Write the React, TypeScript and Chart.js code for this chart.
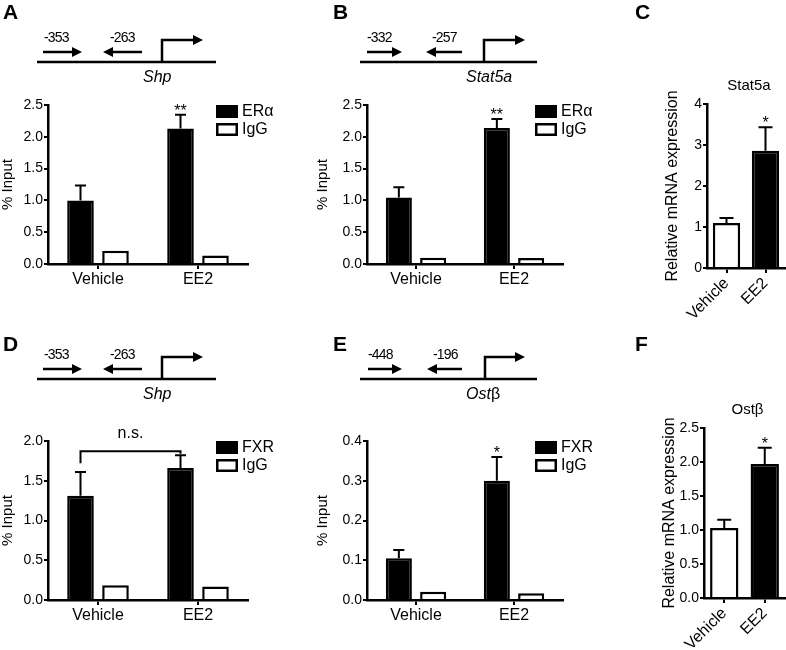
import React, { useEffect, useRef } from "react";
import { Chart, registerables } from "chart.js";

Chart.register(...registerables);

const FONT = "'Liberation Sans', Arial, Helvetica, sans-serif";

// ---------- data ----------
const groups = ["Vehicle", "EE2"];

// A: ERα ChIP at Shp promoter
const aERa = [1.0, 2.13];
const aERaErr = [0.235, 0.215];
const aIgG = [0.21, 0.135];

// B: ERα ChIP at Stat5a promoter
const bERa = [1.045, 2.14];
const bERaErr = [0.16, 0.14];
const bIgG = [0.1, 0.095];

// C: Stat5a mRNA
const cExpr = [1.1, 2.86];
const cErr = [0.12, 0.57];

// D: FXR ChIP at Shp promoter
const dFXR = [1.31, 1.66];
const dFXRErr = [0.3, 0.16];
const dIgG = [0.185, 0.17];

// E: FXR ChIP at Ostβ promoter
const eFXR = [0.105, 0.3];
const eFXRErr = [0.021, 0.06];
const eIgG = [0.021, 0.017];

// F: Ostβ mRNA
const fExpr = [1.03, 1.97];
const fErr = [0.12, 0.24];

// ---------- chart panel ----------
type Rect = { left: number; top: number; width: number; height: number };
type Area = { left: number; top: number; right: number; bottom: number };
type DS = { label: string; data: number[]; err?: number[]; bg: string | string[] };
type Star = { ds: number; idx: number; text: string };
type Bracket = { ds: number; y: number; leftEnd: number; rightEnd: number; text: string };

interface PanelProps {
  canvas: Rect;
  area: Area;
  yTitleLeft: number;
  yTitle: string;
  yTitleSize: number;
  yMax: number;
  yStep: number;
  yDecimals: number;
  labels: string[];
  datasets: DS[];
  catPct: number;
  barPct: number;
  rotate?: boolean;
  legend?: boolean;
  title?: string;
  stars?: Star[];
  bracket?: Bracket;
  capHalf: number;
}

function BarPanel(p: PanelProps) {
  const ref = useRef<HTMLCanvasElement>(null);
  useEffect(() => {
    const padL = p.yTitleLeft - p.canvas.left;
    const yW = p.area.left - p.yTitleLeft;
    const padT = p.area.top - p.canvas.top;
    const padR = p.canvas.left + p.canvas.width - p.area.right;
    const padB = 2;
    const xH = p.canvas.top + p.canvas.height - p.area.bottom - padB;

    const prism = {
      id: "prism",
      afterDatasetsDraw(chart: any) {
        const ctx = chart.ctx as CanvasRenderingContext2D;
        const ys = chart.scales.y;
        const ca = chart.chartArea;
        ctx.save();
        ctx.strokeStyle = "#000";
        ctx.fillStyle = "#000";
        ctx.lineWidth = 2;
        // error bars
        p.datasets.forEach((ds, i) => {
          if (!ds.err) return;
          const meta = chart.getDatasetMeta(i);
          ds.err.forEach((e, j) => {
            if (!e) return;
            const bar = meta.data[j];
            const yt = ys.getPixelForValue(ds.data[j] + e);
            ctx.beginPath();
            ctx.moveTo(bar.x, bar.y);
            ctx.lineTo(bar.x, yt);
            ctx.moveTo(bar.x - p.capHalf, yt);
            ctx.lineTo(bar.x + p.capHalf, yt);
            ctx.stroke();
          });
        });
        // significance stars
        ctx.font = `16px ${FONT}`;
        ctx.textAlign = "center";
        ctx.textBaseline = "alphabetic";
        (p.stars || []).forEach((s) => {
          const ds = p.datasets[s.ds];
          const bar = chart.getDatasetMeta(s.ds).data[s.idx];
          const top = ds.data[s.idx] + (ds.err ? ds.err[s.idx] : 0);
          const y = ys.getPixelForValue(top);
          ctx.fillText(s.text, bar.x, y + 1);
        });
        // bracket
        if (p.bracket) {
          const b = p.bracket;
          const meta = chart.getDatasetMeta(b.ds);
          const x1 = meta.data[0].x;
          const x2 = meta.data[1].x;
          const yb = ys.getPixelForValue(b.y);
          ctx.beginPath();
          ctx.moveTo(x1, ys.getPixelForValue(b.leftEnd));
          ctx.lineTo(x1, yb);
          ctx.lineTo(x2, yb);
          ctx.lineTo(x2, ys.getPixelForValue(b.rightEnd));
          ctx.stroke();
          ctx.font = `16px ${FONT}`;
          ctx.fillText(b.text, (x1 + x2) / 2, yb - 13);
        }
        // legend
        if (p.legend) {
          ctx.font = `16px ${FONT}`;
          ctx.textAlign = "left";
          ctx.textBaseline = "middle";
          p.datasets.forEach((ds, i) => {
            const bx = ca.left + 168;
            const by = ca.top + i * 18;
            ctx.fillStyle = ds.bg as string;
            ctx.fillRect(bx, by, 22, 13);
            ctx.lineWidth = 2.5;
            ctx.strokeStyle = "#000";
            ctx.strokeRect(bx + 1.25, by + 1.25, 22 - 2.5, 13 - 2.5);
            ctx.fillStyle = "#000";
            ctx.fillText(ds.label, bx + 26, by + 6.5);
          });
        }
        // title
        if (p.title) {
          ctx.font = `15px ${FONT}`;
          ctx.textAlign = "center";
          ctx.textBaseline = "middle";
          ctx.fillText(p.title, (ca.left + ca.right) / 2 + 3, ca.top - 18);
        }
        ctx.restore();
      },
    };

    const chart = new Chart(ref.current as HTMLCanvasElement, {
      type: "bar",
      data: {
        labels: p.labels,
        datasets: p.datasets.map((ds) => ({
          label: ds.label,
          data: ds.data,
          backgroundColor: ds.bg as any,
          borderColor: "#000",
          borderWidth: 2.5,
          borderSkipped: "start",
          categoryPercentage: p.catPct,
          barPercentage: p.barPct,
        })),
      },
      options: {
        responsive: false,
        animation: false,
        devicePixelRatio: 1,
        layout: { padding: { left: padL, top: padT, right: padR, bottom: padB } },
        plugins: {
          legend: { display: false },
          tooltip: { enabled: false },
          title: { display: false },
        },
        scales: {
          x: {
            grid: {
              offset: false,
              drawOnChartArea: false,
              drawTicks: true,
              tickLength: 5,
              color: "#000",
              lineWidth: 2,
            },
            border: { display: true, color: "#000", width: 2.5 },
            ticks: {
              color: "#000",
              font: { size: 16, family: FONT },
              padding: 1,
              autoSkip: false,
              minRotation: p.rotate ? 45 : 0,
              maxRotation: p.rotate ? 45 : 0,
            },
            afterFit: (s: any) => {
              s.height = xH;
            },
          },
          y: {
            min: 0,
            max: p.yMax,
            grid: {
              drawOnChartArea: false,
              drawTicks: true,
              tickLength: 4,
              color: "#000",
              lineWidth: 2,
            },
            border: { display: true, color: "#000", width: 2.5 },
            ticks: {
              stepSize: p.yStep,
              color: "#000",
              font: { size: 14, family: FONT },
              padding: 1,
              callback: (v: any) => Number(v).toFixed(p.yDecimals),
            },
            title: {
              display: true,
              text: p.yTitle,
              color: "#000",
              font: { size: p.yTitleSize, family: FONT, lineHeight: 1 },
              padding: 0,
            },
            afterFit: (s: any) => {
              s.width = yW;
            },
          },
        },
      } as any,
      plugins: [prism],
    });
    return () => chart.destroy();
  }, []);
  return (
    <canvas
      ref={ref}
      width={p.canvas.width}
      height={p.canvas.height}
      style={{
        position: "absolute",
        left: p.canvas.left,
        top: p.canvas.top,
        width: p.canvas.width,
        height: p.canvas.height,
      }}
    />
  );
}

// ---------- promoter diagrams ----------
interface PromoterProps {
  x0: number;
  y0: number;
  len: number;
  fwd: [number, number];
  rev: [number, number];
  tss: number;
  tip: number;
  l1: string;
  l1x: number;
  l2: string;
  l2x: number;
  gene: string;
  geneSuffix?: string;
  geneSize: number;
}

function Promoter(d: PromoterProps) {
  const ay = d.y0 - 10;
  const head = 10;
  const hw = 5;
  const sw = 2.5;
  const x = (v: number) => d.x0 + v;
  return (
    <g>
      <line x1={d.x0} y1={d.y0} x2={d.x0 + d.len} y2={d.y0} stroke="#000" strokeWidth={sw} />
      <line x1={x(d.fwd[0])} y1={ay} x2={x(d.fwd[1]) - head + 1} y2={ay} stroke="#000" strokeWidth={sw} />
      <polygon
        points={`${x(d.fwd[1]) - head},${ay - hw} ${x(d.fwd[1])},${ay} ${x(d.fwd[1]) - head},${ay + hw}`}
        fill="#000"
      />
      <line x1={x(d.rev[0]) + head - 1} y1={ay} x2={x(d.rev[1])} y2={ay} stroke="#000" strokeWidth={sw} />
      <polygon
        points={`${x(d.rev[0]) + head},${ay - hw} ${x(d.rev[0])},${ay} ${x(d.rev[0]) + head},${ay + hw}`}
        fill="#000"
      />
      <polyline
        points={`${x(d.tss)},${d.y0} ${x(d.tss)},${d.y0 - 22} ${x(d.tip) - head + 1},${d.y0 - 22}`}
        fill="none"
        stroke="#000"
        strokeWidth={sw}
      />
      <polygon
        points={`${x(d.tip) - head},${d.y0 - 22 - hw} ${x(d.tip)},${d.y0 - 22} ${x(d.tip) - head},${d.y0 - 22 + hw}`}
        fill="#000"
      />
      <text x={x(d.l1x)} y={d.y0 - 20} fontSize={14} letterSpacing={-0.8}>
        {d.l1}
      </text>
      <text x={x(d.l2x)} y={d.y0 - 20} fontSize={14} letterSpacing={-0.8}>
        {d.l2}
      </text>
      <text x={x(106)} y={d.y0 + 20} fontSize={d.geneSize}>
        <tspan fontStyle="italic">{d.gene}</tspan>
        {d.geneSuffix ? <tspan>{d.geneSuffix}</tspan> : null}
      </text>
    </g>
  );
}

export default function App() {
  return (
    <div
      style={{
        position: "absolute",
        left: 0,
        top: 0,
        width: 786,
        height: 650,
        background: "#fff",
        overflow: "hidden",
        fontFamily: FONT,
      }}
    >
      <BarPanel
        canvas={{ left: 0, top: 85, width: 300, height: 215 }}
        area={{ left: 48, top: 105, right: 248, bottom: 264 }}
        yTitleLeft={0}
        yTitle="% Input"
        yTitleSize={15}
        yMax={2.5}
        yStep={0.5}
        yDecimals={1}
        labels={groups}
        datasets={[
          { label: "ERα", data: aERa, err: aERaErr, bg: "#000" },
          { label: "IgG", data: aIgG, bg: "#fff" },
        ]}
        catPct={0.7}
        barPct={0.76}
        legend
        stars={[{ ds: 0, idx: 1, text: "**" }]}
        capHalf={5.5}
      />
      <BarPanel
        canvas={{ left: 315, top: 85, width: 285, height: 215 }}
        area={{ left: 367, top: 105, right: 563, bottom: 264 }}
        yTitleLeft={315}
        yTitle="% Input"
        yTitleSize={15}
        yMax={2.5}
        yStep={0.5}
        yDecimals={1}
        labels={groups}
        datasets={[
          { label: "ERα", data: bERa, err: bERaErr, bg: "#000" },
          { label: "IgG", data: bIgG, bg: "#fff" },
        ]}
        catPct={0.7}
        barPct={0.76}
        legend
        stars={[{ ds: 0, idx: 1, text: "**" }]}
        capHalf={5.5}
      />
      <BarPanel
        canvas={{ left: 640, top: 60, width: 146, height: 272 }}
        area={{ left: 707, top: 104, right: 785, bottom: 268 }}
        yTitleLeft={665}
        yTitle="Relative mRNA expression"
        yTitleSize={16}
        yMax={4}
        yStep={1}
        yDecimals={0}
        labels={groups}
        datasets={[{ label: "Stat5a", data: cExpr, err: cErr, bg: ["#fff", "#000"] }]}
        catPct={0.7}
        barPct={1}
        rotate
        title="Stat5a"
        stars={[{ ds: 0, idx: 1, text: "*" }]}
        capHalf={7}
      />
      <BarPanel
        canvas={{ left: 0, top: 415, width: 300, height: 225 }}
        area={{ left: 48, top: 441, right: 248, bottom: 600 }}
        yTitleLeft={0}
        yTitle="% Input"
        yTitleSize={15}
        yMax={2.0}
        yStep={0.5}
        yDecimals={1}
        labels={groups}
        datasets={[
          { label: "FXR", data: dFXR, err: dFXRErr, bg: "#000" },
          { label: "IgG", data: dIgG, bg: "#fff" },
        ]}
        catPct={0.7}
        barPct={0.76}
        legend
        bracket={{ ds: 0, y: 1.87, leftEnd: 1.72, rightEnd: 1.84, text: "n.s." }}
        capHalf={5.5}
      />
      <BarPanel
        canvas={{ left: 315, top: 415, width: 285, height: 225 }}
        area={{ left: 367, top: 441, right: 563, bottom: 600 }}
        yTitleLeft={315}
        yTitle="% Input"
        yTitleSize={15}
        yMax={0.4}
        yStep={0.1}
        yDecimals={1}
        labels={groups}
        datasets={[
          { label: "FXR", data: eFXR, err: eFXRErr, bg: "#000" },
          { label: "IgG", data: eIgG, bg: "#fff" },
        ]}
        catPct={0.7}
        barPct={0.76}
        legend
        stars={[{ ds: 0, idx: 1, text: "*" }]}
        capHalf={5.5}
      />
      <BarPanel
        canvas={{ left: 640, top: 380, width: 146, height: 270 }}
        area={{ left: 704, top: 428, right: 785, bottom: 598 }}
        yTitleLeft={662}
        yTitle="Relative mRNA expression"
        yTitleSize={16}
        yMax={2.5}
        yStep={0.5}
        yDecimals={1}
        labels={groups}
        datasets={[{ label: "Ostβ", data: fExpr, err: fErr, bg: ["#fff", "#000"] }]}
        catPct={0.7}
        barPct={1}
        rotate
        title="Ostβ"
        stars={[{ ds: 0, idx: 1, text: "*" }]}
        capHalf={7}
      />
      <svg
        width={786}
        height={650}
        style={{ position: "absolute", left: 0, top: 0, pointerEvents: "none" }}
        fontFamily={FONT}
      >
        <g fontSize={21} fontWeight="bold">
          <text x={3} y={19}>A</text>
          <text x={333} y={19}>B</text>
          <text x={635} y={19}>C</text>
          <text x={3} y={351}>D</text>
          <text x={333} y={351}>E</text>
          <text x={635} y={351}>F</text>
        </g>
        <Promoter x0={37} y0={62} len={179} fwd={[6, 45]} rev={[66, 105]} tss={125} tip={166}
          l1="-353" l1x={7} l2="-263" l2x={73} gene="Shp" geneSize={16} />
        <Promoter x0={360} y0={62} len={177} fwd={[7, 42]} rev={[66, 102]} tss={124} tip={165}
          l1="-332" l1x={7} l2="-257" l2x={72} gene="Stat5a" geneSize={16} />
        <Promoter x0={37} y0={379} len={179} fwd={[6, 45]} rev={[66, 105]} tss={125} tip={166}
          l1="-353" l1x={7} l2="-263" l2x={73} gene="Shp" geneSize={16} />
        <Promoter x0={360} y0={379} len={177} fwd={[8, 42]} rev={[67, 102]} tss={125} tip={165}
          l1="-448" l1x={8} l2="-196" l2x={73} gene="Ost" geneSuffix="β" geneSize={16} />
      </svg>
    </div>
  );
}
